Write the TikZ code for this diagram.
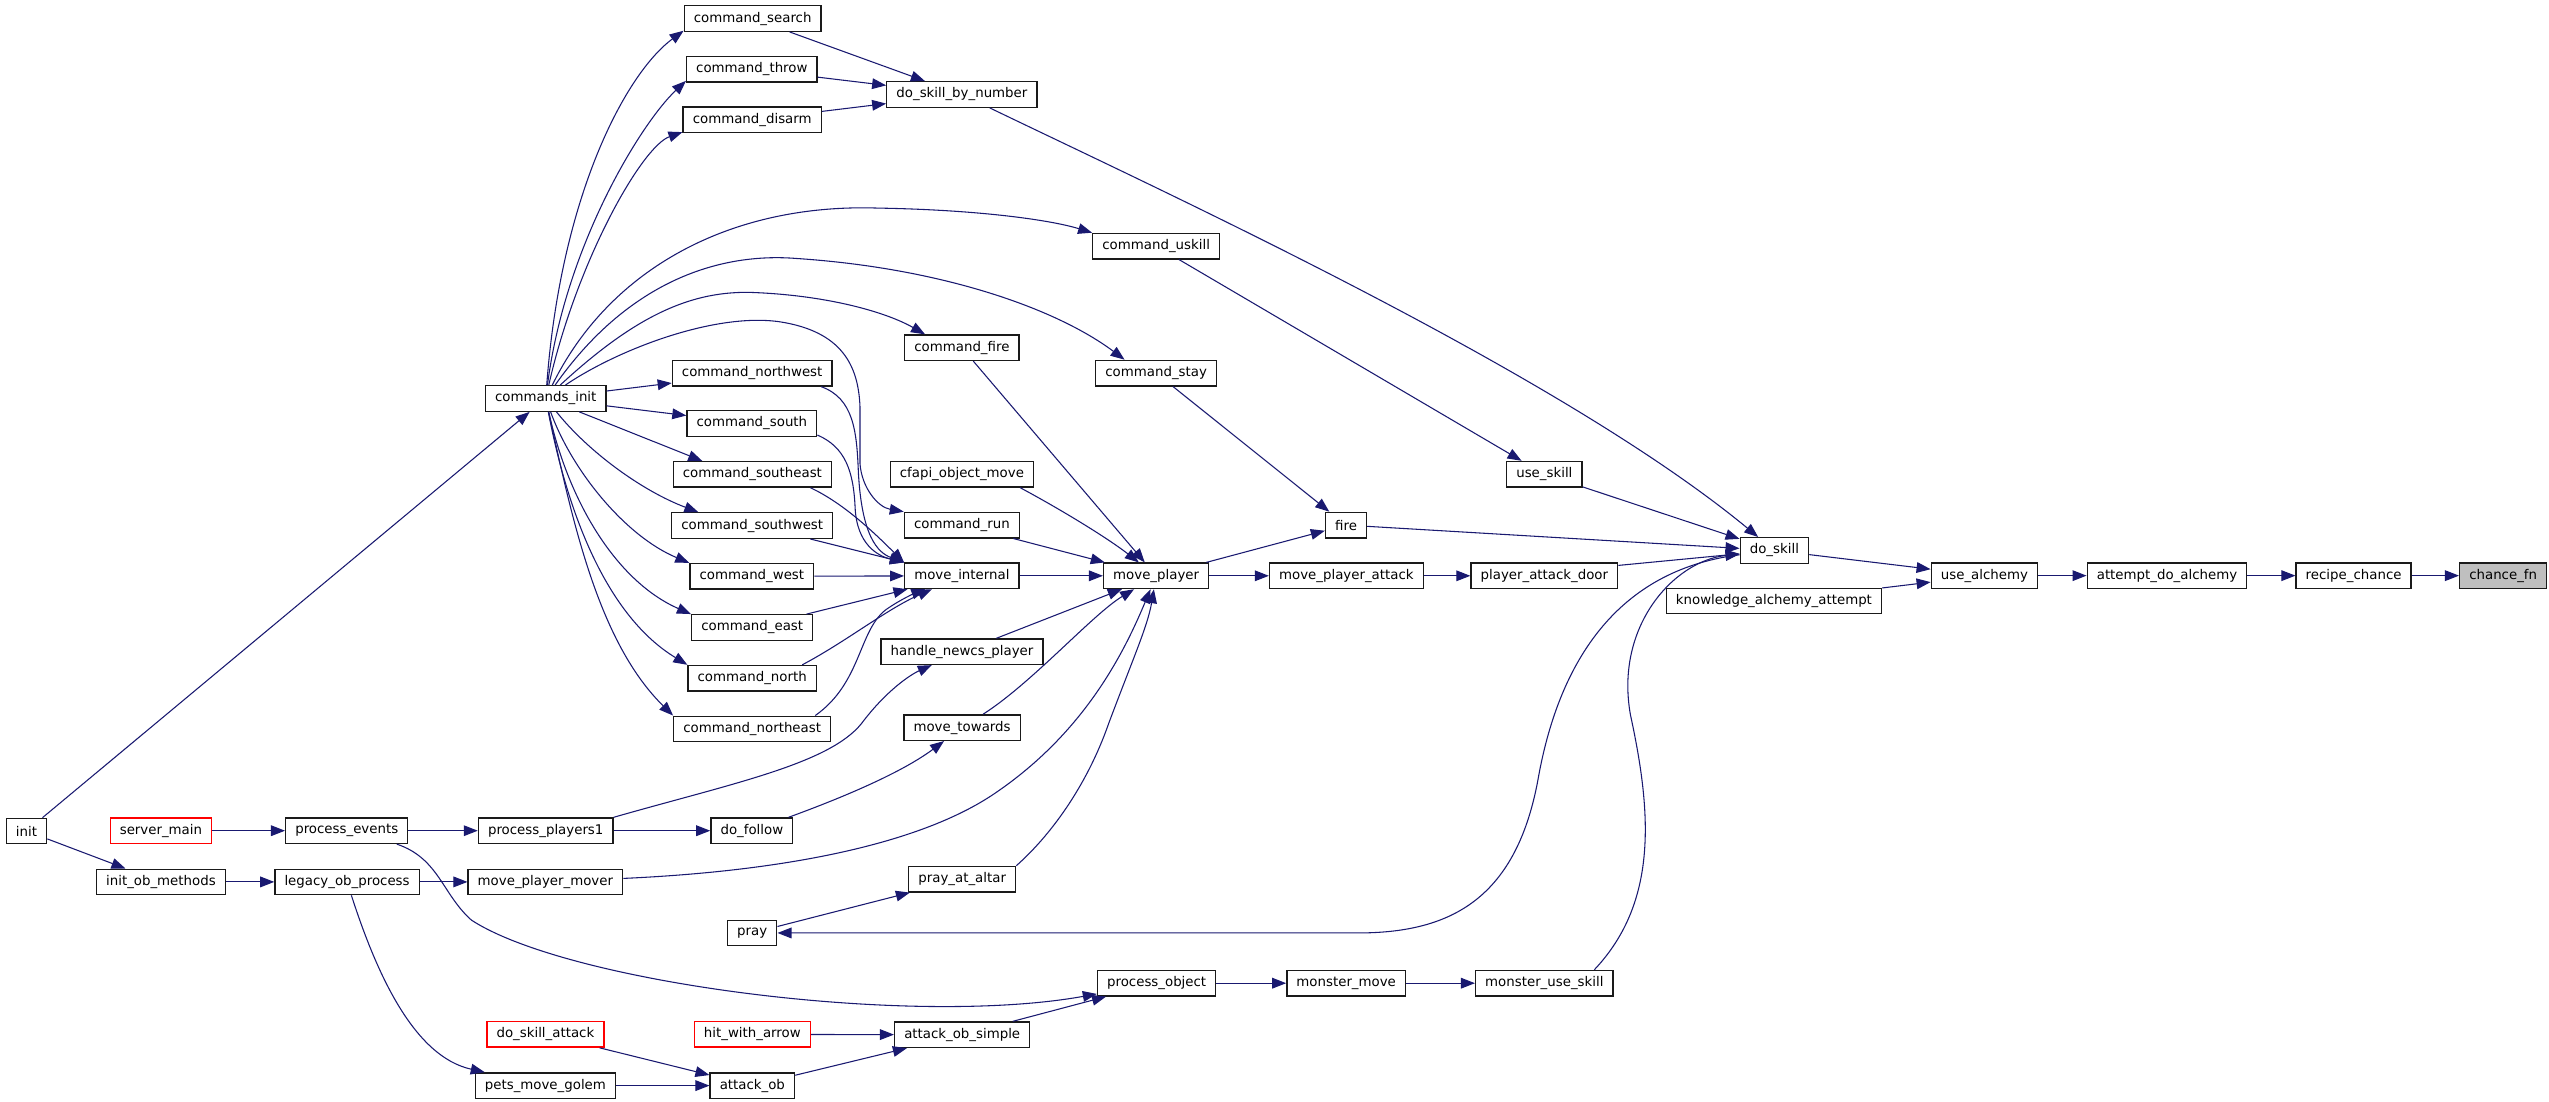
\documentclass[tikz,border=0pt]{standalone}
\usepackage{fontspec}
\setmainfont{DejaVu Sans}
\usetikzlibrary{arrows.meta}
\definecolor{edgeblue}{HTML}{191970}
\definecolor{boxgray}{HTML}{1A1A1A}
\def\fnnode{\node[fn]}
\def\extnode{\node[fn,draw=red]}

\begin{document}
\begin{tikzpicture}[x=1.218pt,y=1.218pt,
  fn/.style={draw=boxgray,fill=white,line width=1pt,minimum height=19.1pt,
    inner xsep=7.2pt,inner ysep=0pt,font=\fontsize{10}{12}\selectfont},
  call/.style={draw=edgeblue,line width=0.8pt,-{Triangle[length=10.5pt,width=8pt]}}]
\useasboundingbox (0,0) rectangle (1568,-677.3);
% callers, left to right
\fnnode (init) at (16.3,-511.2) {init};
\extnode (server_main) at (99,-511) {server\_main};
\fnnode (init_ob_methods) at (99,-542.5) {init\_ob\_methods};
\fnnode (process_events) at (213.3,-511) {process\_events};
\fnnode (legacy_ob_process) at (213.5,-542.5) {legacy\_ob\_process};
\fnnode (commands_init) at (335.7,-245.1) {commands\_init};
\fnnode (process_players1) at (335.7,-511) {process\_players1};
\fnnode (move_player_mover) at (335.5,-542.5) {move\_player\_mover};
\extnode (do_skill_attack) at (335.5,-636.3) {do\_skill\_attack};
\fnnode (pets_move_golem) at (335.5,-667.8) {pets\_move\_golem};
\fnnode (command_search) at (463,-11.4) {command\_search};
\fnnode (command_throw) at (462.5,-42.6) {command\_throw};
\fnnode (command_disarm) at (462.7,-73.7) {command\_disarm};
\fnnode (command_northwest) at (462.7,-229.6) {command\_northwest};
\fnnode (command_south) at (462.5,-260.5) {command\_south};
\fnnode (command_southeast) at (462.8,-291.8) {command\_southeast};
\fnnode (command_southwest) at (462.7,-323.3) {command\_southwest};
\fnnode (command_west) at (462.5,-354.5) {command\_west};
\fnnode (command_east) at (462.7,-386) {command\_east};
\fnnode (command_north) at (462.7,-417.2) {command\_north};
\fnnode (command_northeast) at (462.7,-448.4) {command\_northeast};
\fnnode (do_follow) at (462.5,-511) {do\_follow};
\fnnode (pray) at (462.7,-573.9) {pray};
\extnode (hit_with_arrow) at (462.8,-636.3) {hit\_with\_arrow};
\fnnode (attack_ob) at (462.8,-667.8) {attack\_ob};
\fnnode (do_skill_by_number) at (591.7,-58.1) {do\_skill\_by\_number};
\fnnode (command_fire) at (591.7,-213.9) {command\_fire};
\fnnode (cfapi_object_move) at (591.7,-291.7) {cfapi\_object\_move};
\fnnode (command_run) at (591.7,-323) {command\_run};
\fnnode (move_internal) at (591.7,-354.2) {move\_internal};
\fnnode (handle_newcs_player) at (591.8,-400.9) {handle\_newcs\_player};
\fnnode (move_towards) at (591.8,-447.6) {move\_towards};
\fnnode (pray_at_altar) at (591.9,-540.8) {pray\_at\_altar};
\fnnode (attack_ob_simple) at (591.9,-636.5) {attack\_ob\_simple};
\fnnode (command_uskill) at (711.2,-151.4) {command\_uskill};
\fnnode (command_stay) at (711.2,-229.5) {command\_stay};
\fnnode (move_player) at (711.2,-354.2) {move\_player};
\fnnode (process_object) at (711.5,-604.8) {process\_object};
\fnnode (fire) at (828,-323) {fire};
\fnnode (move_player_attack) at (828.2,-354.2) {move\_player\_attack};
\fnnode (monster_move) at (828.1,-604.8) {monster\_move};
\fnnode (use_skill) at (950,-291.7) {use\_skill};
\fnnode (player_attack_door) at (950,-354.2) {player\_attack\_door};
\fnnode (monster_use_skill) at (950,-604.8) {monster\_use\_skill};
\fnnode (do_skill) at (1091.5,-338.6) {do\_skill};
\fnnode (knowledge_alchemy_attempt) at (1091.2,-369.7) {knowledge\_alchemy\_attempt};
\fnnode (use_alchemy) at (1220.7,-354.1) {use\_alchemy};
\fnnode (attempt_do_alchemy) at (1333,-354.1) {attempt\_do\_alchemy};
\fnnode (recipe_chance) at (1447.8,-354.1) {recipe\_chance};
\node[fn,fill=black!25] (chance_fn) at (1539.8,-354.1) {chance\_fn};

% left part
\draw[call] (init) -- (commands_init);
\draw[call] (init) -- (init_ob_methods);
\draw[call] (server_main) -- (process_events);
\draw[call] (process_events) -- (process_players1);
\draw[call] (process_players1) -- (do_follow);
\draw[call] (init_ob_methods) -- (legacy_ob_process);
\draw[call] (legacy_ob_process) -- (move_player_mover);
\draw[call] (legacy_ob_process) .. controls (232,-600) and (255,-650) .. (pets_move_golem);
\draw[call] (pets_move_golem) -- (attack_ob);
\draw[call] (do_skill_attack) -- (attack_ob);
\draw[call] (attack_ob) -- (attack_ob_simple);
\draw[call] (hit_with_arrow) -- (attack_ob_simple);
\draw[call] (attack_ob_simple) -- (process_object);
\draw[call] (process_events.-15) .. controls (270,-528) and (272,-550) .. (290,-566)
  .. controls (350,-605) and (560,-632) .. (process_object);
\draw[call] (process_object) -- (monster_move);
\draw[call] (monster_move) -- (monster_use_skill);
\draw[call] ([xshift=-14.6pt]monster_use_skill.north east) .. controls (1020,-555) and (1016,-500) .. (1003,-440)
  .. controls (993,-385) and (1030,-345) .. (do_skill);
\draw[call] (do_skill) .. controls (1000,-350) and (960,-400) .. (946,-480)
  .. controls (932,-555) and (890,-573.9) .. (835,-573.9) -- (pray);

% commands_init fan
\draw[call] (commands_init) .. controls (345,-120) and (385,-45) .. (command_search.190);
\draw[call] (commands_init) .. controls (348,-150) and (395,-75) .. (command_throw.190);
\draw[call] (commands_init) .. controls (355,-160) and (395,-90) .. (command_disarm.190);
\draw[call] (commands_init) .. controls (375,-165) and (450,-125) .. (540,-128)
  .. controls (600,-129) and (645,-135) .. (command_uskill.north west);
\draw[call] (commands_init) .. controls (385,-175) and (440,-155) .. (490,-159)
  .. controls (580,-165) and (650,-190) .. (command_stay.157);
\draw[call] (commands_init) .. controls (390,-195) and (425,-178) .. (465,-180)
  .. controls (510,-182) and (545,-192) .. (command_fire.160);
\draw[call] (commands_init) .. controls (380,-215) and (440,-192) .. (480,-198)
  .. controls (518,-204) and (528,-225) .. (529,-250) -- (529,-285)
  .. controls (530,-300) and (540,-312) .. (command_run.north west);
\draw[call] (commands_init) -- (command_northwest);
\draw[call] (commands_init) -- (command_south);
\draw[call] (commands_init) -- (command_southeast.165);
\draw[call] (commands_init) .. controls (362,-278) and (395,-302) .. (command_southwest.166);
\draw[call] (commands_init) .. controls (352,-290) and (385,-330) .. (command_west.north west);
\draw[call] (commands_init) .. controls (350,-310) and (380,-358) .. (command_east.north west);
\draw[call] (commands_init) .. controls (350,-320) and (375,-380) .. (command_north.north west);
\draw[call] (commands_init) .. controls (352,-320) and (368,-395) .. (command_northeast.north west);
\draw[call] (command_search) -- (do_skill_by_number);
\draw[call] (command_throw) -- (do_skill_by_number);
\draw[call] (command_disarm) -- (do_skill_by_number);

% into move_internal
\draw[call] (command_northwest.-11.5) .. controls (525,-245) and (527,-265) .. (528,-290)
  .. controls (530,-330) and (540,-340) .. (move_internal.north west);
\draw[call] (command_south.-10) .. controls (520,-275) and (525,-290) .. (526,-312)
  .. controls (527,-335) and (540,-342) .. (move_internal.north west);
\draw[call] (command_southeast.-13.7) .. controls (520,-310) and (540,-330) .. (move_internal.north west);
\draw[call] (command_southwest.-13.6) -- (move_internal.north west);
\draw[call] (command_west) -- (move_internal);
\draw[call] (command_east) -- (move_internal);
\draw[call] (command_north.15) .. controls (520,-395) and (545,-375) .. (move_internal);
\draw[call] (command_northeast.12.6) .. controls (530,-420) and (528,-388) .. (545,-375)
  .. controls (555,-368) and (565,-364) .. (move_internal);

% into move_player
\draw[call] (move_internal) -- (move_player);
\draw[call] (command_run) -- (move_player);
\draw[call] (cfapi_object_move.-13.8) .. controls (650,-312) and (680,-330) .. (move_player);
\draw[call] (command_fire) -- (move_player);
\draw[call] (handle_newcs_player) -- (move_player);
\draw[call] (move_towards) .. controls (635,-420) and (672,-378) .. (move_player);
\draw[call] (do_follow) .. controls (520,-490) and (555,-475) .. (move_towards);
\draw[call] (process_players1.north east) .. controls (450,-482) and (510,-470) .. (530,-445)
  .. controls (545,-425) and (560,-415) .. (handle_newcs_player);
\draw[call] (move_player_mover) .. controls (480,-536) and (565,-520) .. (612,-488)
  .. controls (668,-450) and (692,-400) .. (move_player);
\draw[call] (pray_at_altar.north east) .. controls (645,-515) and (668,-485) .. (682,-445)
  .. controls (697,-405) and (706,-385) .. (move_player);
\draw[call] (pray) -- (pray_at_altar);

% right part
\draw[call] (move_player) -- (fire);
\draw[call] (move_player) -- (move_player_attack);
\draw[call] (move_player_attack) -- (player_attack_door);
\draw[call] (command_stay) -- (fire);
\draw[call] (command_uskill) -- (use_skill);
\draw[call] (do_skill_by_number) .. controls (720,-120) and (960,-230) .. (do_skill);
\draw[call] (use_skill) -- (do_skill);
\draw[call] (fire) -- (do_skill);
\draw[call] (player_attack_door.8) -- (do_skill);
\draw[call] (do_skill) -- (use_alchemy);
\draw[call] (knowledge_alchemy_attempt) -- (use_alchemy);
\draw[call] (use_alchemy) -- (attempt_do_alchemy);
\draw[call] (attempt_do_alchemy) -- (recipe_chance);
\draw[call] (recipe_chance) -- (chance_fn);
\end{tikzpicture}
\end{document}
